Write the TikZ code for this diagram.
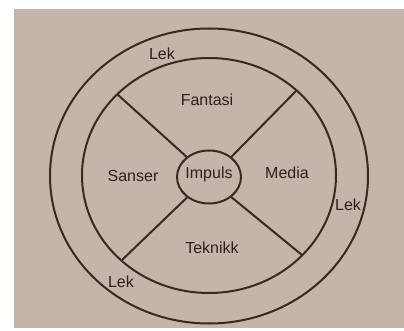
\documentclass[tikz,border=0pt]{standalone}
\usepackage{fontspec}
\setmainfont{Liberation Sans}
\usetikzlibrary{shapes.geometric}
\definecolor{paper}{RGB}{196,180,170}
\definecolor{ink}{RGB}{60,40,34}
\definecolor{txt}{RGB}{45,33,31}
\begin{document}
\begin{tikzpicture}[x=1pt,y=-1pt,
  ring/.style={draw=ink,line width=2pt},
  spoke/.style={draw=ink,line width=2pt},
  lbl/.style={font=\fontsize{16}{19}\selectfont,text=txt,inner sep=0pt}]
\useasboundingbox (0,0) rectangle (404,331);
\fill[white] (0,0) rectangle (404,331);
\fill[paper] (14,9) rectangle (404,328);
% rings
\draw[ring] (209,176) ellipse [x radius=159,y radius=147.5];
\draw[ring] (209,175.5) ellipse [x radius=127,y radius=117.5];
\node[ring,ellipse,inner sep=0pt,minimum width=64pt,minimum height=53pt] (imp) at (209,177) {};
% spoke end points
\coordinate (ul) at (117,94);
\coordinate (ur) at (296,91);
\coordinate (ll) at (122,260);
\coordinate (lr) at (302,255);
\draw[spoke] (ul) -- (imp.138);
\draw[spoke] (ur) -- (imp.42);
\draw[spoke] (ll) -- (imp.223);
\draw[spoke] (lr) -- (imp.318);
% labels
\node[lbl] (impuls) at (209,174) {Impuls};
\node[lbl] (fantasi) at (207,100) {Fantasi};
\node[lbl] (sanser) at (133,176) {Sanser};
\node[lbl] (media) at (287,173) {Media};
\node[lbl] (teknikk) at (212,248) {Teknikk};
\node[lbl] (lek1) at (162,54) {Lek};
\node[lbl] (lek2) at (348,205) {Lek};
\node[lbl] (lek3) at (121,282) {Lek};
\end{tikzpicture}
\end{document}
